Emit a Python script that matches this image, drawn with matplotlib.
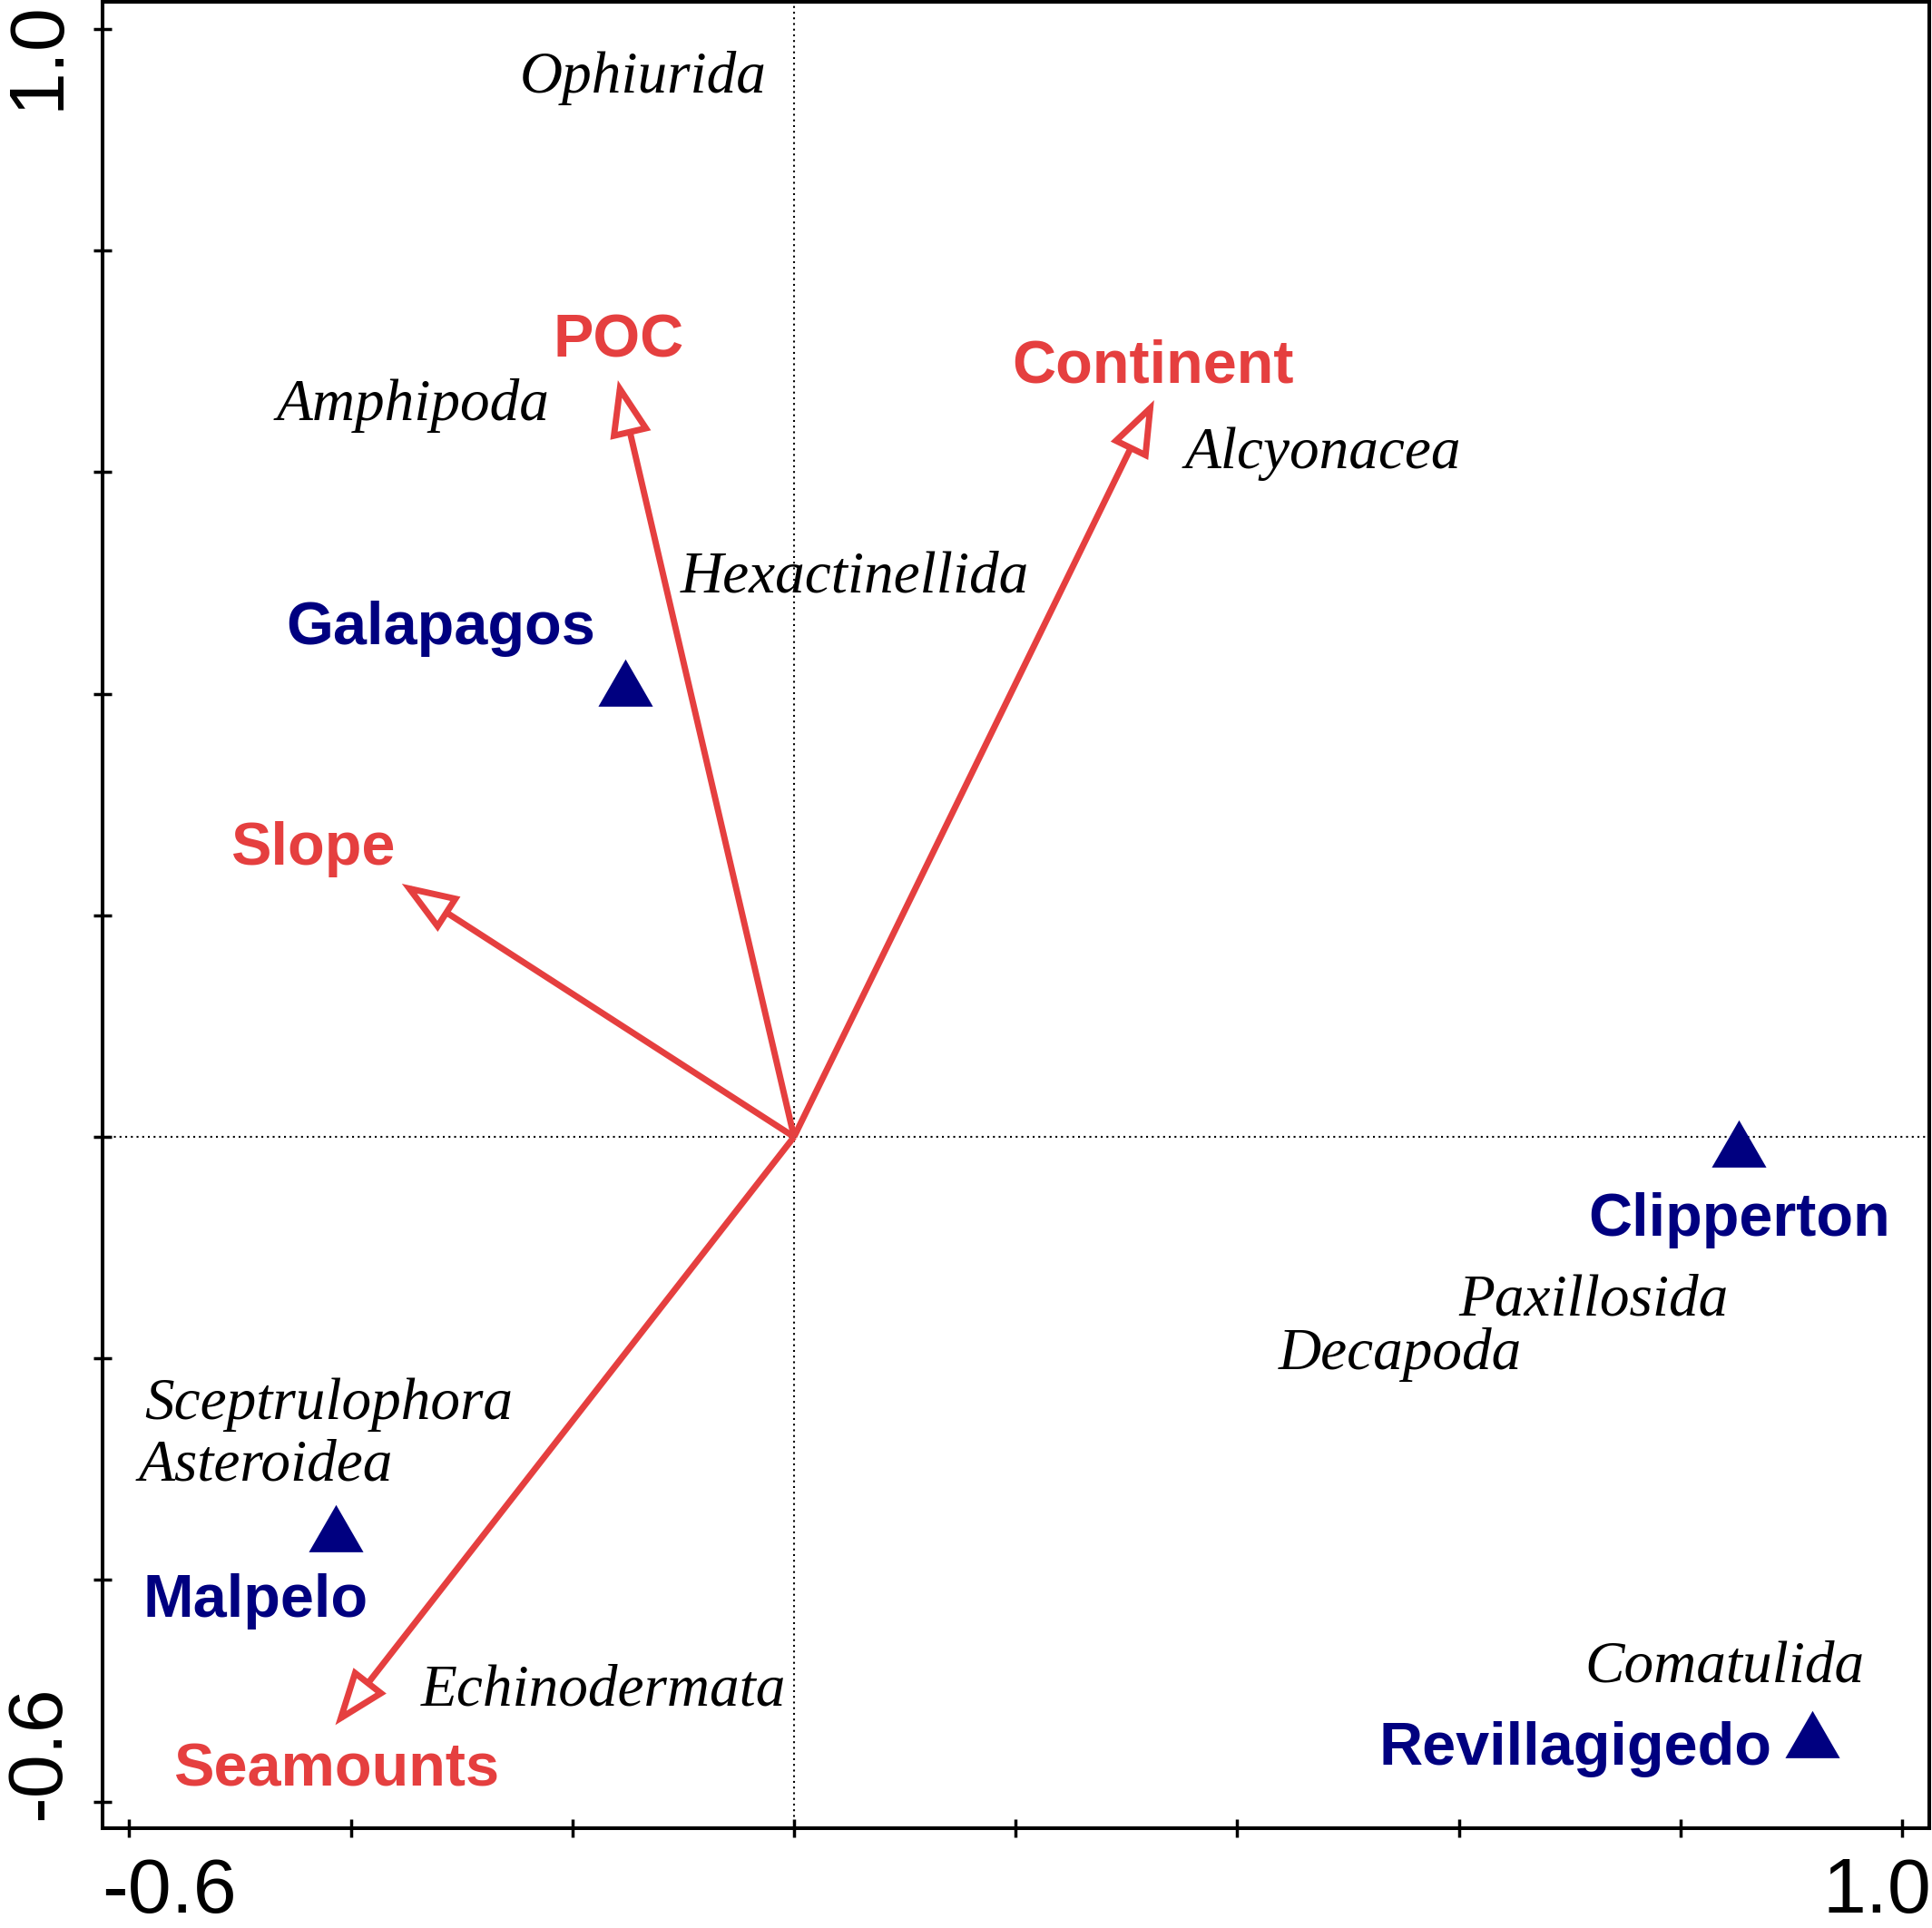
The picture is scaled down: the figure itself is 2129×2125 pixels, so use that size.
import matplotlib.pyplot as plt
from matplotlib.patches import FancyArrowPatch, ArrowStyle

plt.rcParams['font.family'] = ['Liberation Sans', 'DejaVu Sans']

red = '#E53F3F'
navy = '#000080'

# environmental vectors: arrow tips and label positions
env_names = ['POC', 'Continent', 'Slope', 'Seamounts']
env_x = [-0.159, 0.325, -0.354, -0.414]
env_y = [0.683, 0.665, 0.2285, -0.531]
env_label_x = [-0.158, 0.324, -0.434, -0.413]
env_label_y = [0.704, 0.681, 0.246, -0.586]

# sites (triangles) and label positions
site_names = ['Galapagos', 'Clipperton', 'Malpelo', 'Revillagigedo']
site_x = [-0.152, 0.853, -0.414, 0.919]
site_y = [0.403, -0.013, -0.360, -0.546]
site_label_x = [-0.319, 0.853, -0.486, 0.705]
site_label_y = [0.445, -0.089, -0.433, -0.567]

# taxa scores
taxa = ['Ophiurida', 'Amphipoda', 'Alcyonacea', 'Hexactinellida',
        'Paxillosida', 'Decapoda', 'Sceptrulophora', 'Asteroidea',
        'Echinodermata', 'Comatulida']
taxa_x = [-0.136, -0.344, 0.477, 0.055, 0.7215, 0.547, -0.420, -0.477,
          -0.172, 0.840]
taxa_y = [0.943, 0.647, 0.604, 0.492, -0.161, -0.210, -0.255, -0.310,
          -0.513, -0.492]

ticks = [-0.6, -0.4, -0.2, 0.0, 0.2, 0.4, 0.6, 0.8, 1.0]
tick_labels = ['-0.6', '1.0']

fig = plt.figure(figsize=(21.29, 21.25), dpi=100)
ax = fig.add_axes([113 / 2129, 1 - 2015 / 2125, 2013 / 2129, 2013 / 2125])
ax.set_xlim(-0.6241, 1.0246)
ax.set_ylim(-0.6241, 1.0246)

ax.axhline(0, color='black', lw=1.5, ls=(0, (1, 2)), zorder=1)
ax.axvline(0, color='black', lw=1.5, ls=(0, (1, 2)), zorder=1)

# arrows with open heads
head = ArrowStyle('-|>', head_length=35, head_width=13)
for x, y in zip(env_x, env_y):
    arr = FancyArrowPatch((0, 0), (x, y), arrowstyle=head, mutation_scale=1,
                          shrinkA=0, shrinkB=0, lw=5, edgecolor=red,
                          facecolor='white', joinstyle='miter',
                          capstyle='butt', zorder=3)
    ax.add_patch(arr)

for name, x, y in zip(env_names, env_label_x, env_label_y):
    ax.text(x, y, name, color=red, fontsize=48, fontweight='bold',
            ha='center', va='baseline', zorder=5)

# equilateral triangle, centred on its centroid like R's pch 17
tri = [(0, 1), (-0.866, -0.5), (0.866, -0.5)]
ax.plot(site_x, site_y, ls='none', marker=tri, markersize=50,
        color=navy, markeredgewidth=0, zorder=4)

for name, x, y in zip(site_names, site_label_x, site_label_y):
    ax.text(x, y, name, color=navy, fontsize=48, fontweight='bold',
            ha='center', va='baseline', zorder=5)

for name, x, y in zip(taxa, taxa_x, taxa_y):
    ax.text(x, y, name, color='black', fontsize=47, style='italic',
            family=['Liberation Serif', 'DejaVu Serif'],
            ha='center', va='baseline', zorder=5)

# axes
for s in ax.spines.values():
    s.set_linewidth(2.9)
ax.set_xticks(ticks)
ax.set_yticks(ticks)
ax.set_xticklabels([])
ax.set_yticklabels([])
ax.tick_params(direction='inout', length=14, width=2.5)

# only the end labels are printed, pulled in to the plot edges
ax.annotate(tick_labels[0], xy=(ticks[0], 0), xycoords=('data', 'axes fraction'),
            xytext=(-21.6, -67), textcoords='offset points',
            ha='left', va='baseline', fontsize=62)
ax.annotate(tick_labels[1], xy=(ticks[-1], 0), xycoords=('data', 'axes fraction'),
            xytext=(23, -67), textcoords='offset points',
            ha='right', va='baseline', fontsize=62)
ax.annotate(tick_labels[0], xy=(0, ticks[0]), xycoords=('axes fraction', 'data'),
            xytext=(-34.6, -15), textcoords='offset points',
            ha='left', va='baseline', rotation=90, rotation_mode='anchor',
            fontsize=62)
ax.annotate(tick_labels[1], xy=(0, ticks[-1]), xycoords=('axes fraction', 'data'),
            xytext=(-34.6, 22), textcoords='offset points',
            ha='right', va='baseline', rotation=90, rotation_mode='anchor',
            fontsize=62)

fig.savefig('out.png', dpi=100)
